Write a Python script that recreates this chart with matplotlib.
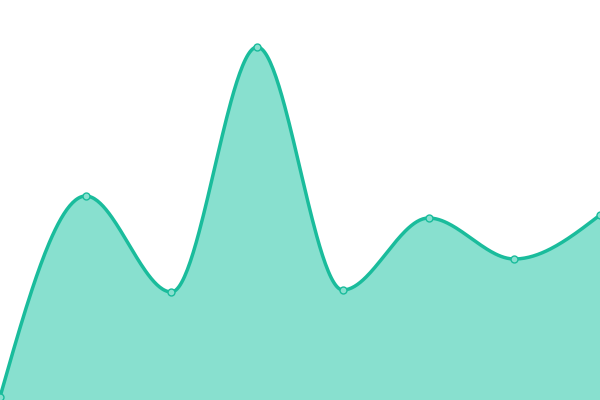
import numpy as np
import matplotlib.pyplot as plt

# values (height above the bottom edge)
xs = np.arange(8)
values = [3, 204, 108, 353, 110, 182, 141, 185]

line_color = '#1abc9c'
fill_color = '#88e0cf'


def monotone_x(x, y, n=60):
    # monotone cubic interpolation (same as d3 curveMonotoneX)
    x = np.asarray(x, float)
    y = np.asarray(y, float)
    h = np.diff(x)
    s = np.diff(y) / h
    t = np.zeros(len(x))
    for i in range(1, len(x) - 1):
        p = (s[i - 1] * h[i] + s[i] * h[i - 1]) / (h[i - 1] + h[i])
        t[i] = (np.sign(s[i - 1]) + np.sign(s[i])) * min(abs(s[i - 1]), abs(s[i]), 0.5 * abs(p))
    t[0] = (3 * s[0] - t[1]) / 2
    t[-1] = (3 * s[-1] - t[-2]) / 2
    px, py = [], []
    u = np.linspace(0, 1, n)
    for i in range(len(x) - 1):
        dx = h[i] / 3
        x0, x1, x2, x3 = x[i], x[i] + dx, x[i + 1] - dx, x[i + 1]
        y0, y1, y2, y3 = y[i], y[i] + dx * t[i], y[i + 1] - dx * t[i + 1], y[i + 1]
        b = [(1 - u) ** 3, 3 * u * (1 - u) ** 2, 3 * u ** 2 * (1 - u), u ** 3]
        px.append(b[0] * x0 + b[1] * x1 + b[2] * x2 + b[3] * x3)
        py.append(b[0] * y0 + b[1] * y1 + b[2] * y2 + b[3] * y3)
    return np.concatenate(px), np.concatenate(py)


cx, cy = monotone_x(xs, values)

fig = plt.figure(figsize=(6, 4), dpi=100)
ax = fig.add_axes([0, 0, 1, 1])
ax.fill_between(cx, 0, cy, color=fill_color, lw=0)
ax.plot(cx, cy, color=line_color, lw=2.5, solid_capstyle='round')
ax.plot(xs, values, 'o', ms=5, mfc=fill_color, mec=line_color, mew=1)
ax.set_xlim(0, 7)
ax.set_ylim(0, 400)
ax.axis('off')
fig.savefig('out.png', dpi=100)
